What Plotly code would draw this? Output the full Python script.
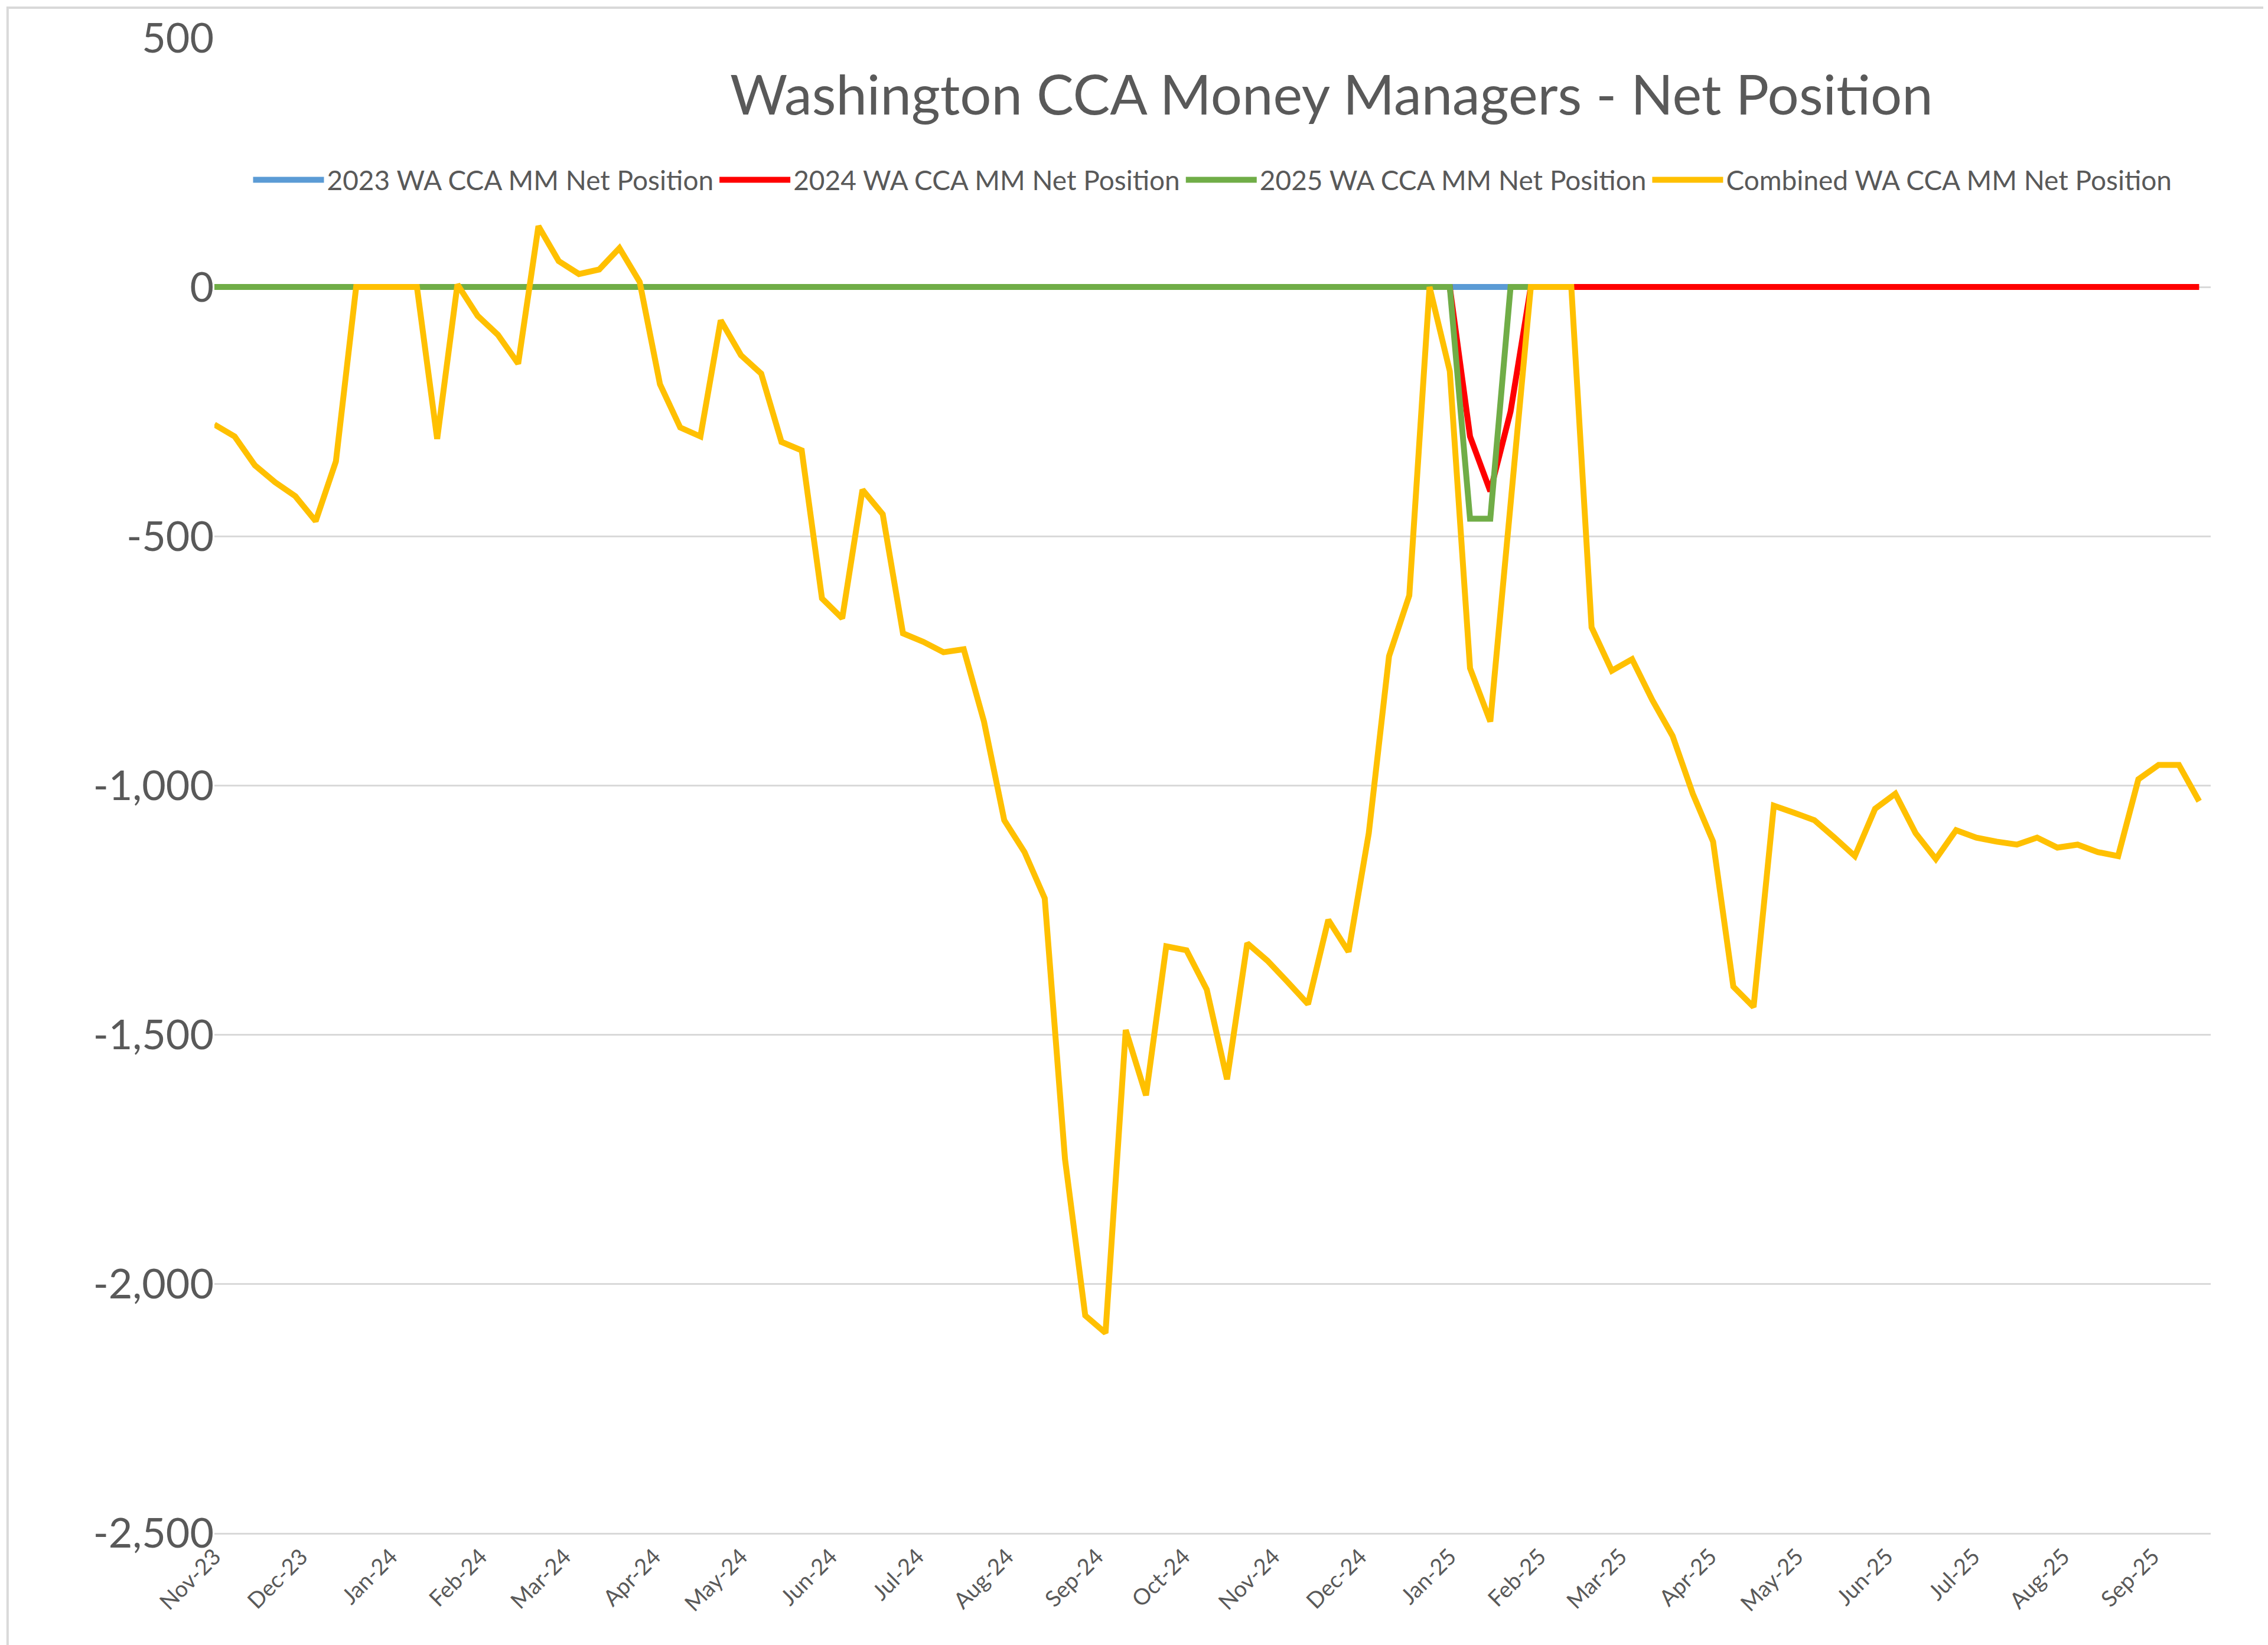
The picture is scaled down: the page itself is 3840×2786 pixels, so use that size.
import plotly.graph_objects as go
import pandas as pd

dates = pd.date_range("2023-11-01", periods=99, freq="7D")

combined = [-276,-300,-358,-392,-420,-470,-350,0,0,0,0,-305,5,-58,-96,-154,122,52,26,35,78,10,
            -195,-282,-300,-67,-137,-174,-311,-328,-625,-665,-407,-456,-695,-712,-733,-727,-872,
            -1070,-1134,-1227,-1750,-2064,-2099,-1491,-1622,-1323,-1331,-1410,-1590,-1317,-1352,
            -1395,-1439,-1270,-1334,-1096,-741,-619,0,-169,-765,-872,-436,0,0,0,-683,-770,-747,
            -829,-901,-1017,-1113,-1404,-1445,-1041,-1055,-1070,-1105,-1142,-1047,-1017,-1096,
            -1148,-1090,-1105,-1113,-1119,-1105,-1125,-1119,-1134,-1142,-988,-959,-959,-1032]
s2023 = [0]*66
s2024 = [0]*62 + [-300, -410, -250] + [0]*34
s2025 = [0]*62 + [-465, -465] + [0]*4
y_ticks = [500, 0, -500, -1000, -1500, -2000, -2500]
y_labels = ["500", "0", "-500", "-1,000", "-1,500", "-2,000", "-2,500"]

fig = go.Figure()
fig.add_trace(go.Scatter(x=dates[:len(s2023)], y=s2023, mode="lines", name="2023 WA CCA MM Net Position",
                         line=dict(color="#5B9BD5", width=10)))
fig.add_trace(go.Scatter(x=dates[:len(s2024)], y=s2024, mode="lines", name="2024 WA CCA MM Net Position",
                         line=dict(color="#FF0000", width=10)))
fig.add_trace(go.Scatter(x=dates[:len(s2025)], y=s2025, mode="lines", name="2025 WA CCA MM Net Position",
                         line=dict(color="#70AD47", width=10)))
fig.add_trace(go.Scatter(x=dates, y=combined, mode="lines", name="Combined WA CCA MM Net Position",
                         line=dict(color="#FFC000", width=10)))

fig.update_layout(
    width=3840, height=2786, paper_bgcolor="white", plot_bgcolor="white",
    font=dict(family="Lato, Open Sans, sans-serif", color="#595959"),
    margin=dict(l=355, r=105, t=56, b=198),
    title=dict(text="Washington CCA Money Managers - Net Position", x=0.585, xanchor="center",
               y=0.945, yanchor="middle", font=dict(size=94, color="#595959")),
    legend=dict(orientation="h", x=0.5, xanchor="center", y=0.905, yanchor="middle",
                font=dict(size=46, color="#595959"), bgcolor="rgba(0,0,0,0)",
                itemwidth=120, tracegroupgap=0),
    showlegend=True,
)
fig.update_xaxes(range=[dates[0], dates[-1] + pd.Timedelta(days=4)], dtick="M1", tickformat="%b-%y",
                 tick0="2023-11-01", tickangle=-45, tickfont=dict(size=38, color="#595959"),
                 showgrid=False, showline=True, linecolor="#D9D9D9", linewidth=3, ticks="")
fig.update_yaxes(range=[-2500, 500], tickvals=y_ticks, ticktext=y_labels,
                 tickfont=dict(size=70, color="#595959"),
                 showgrid=True, gridcolor="#D9D9D9", gridwidth=3, zeroline=False, ticks="")
fig.add_shape(type="rect", xref="paper", yref="paper", x0=-0.1036, y0=-0.0762, x1=1.0296, y1=1.0201,
              line=dict(color="#D9D9D9", width=4))
fig.write_html("out.html")
